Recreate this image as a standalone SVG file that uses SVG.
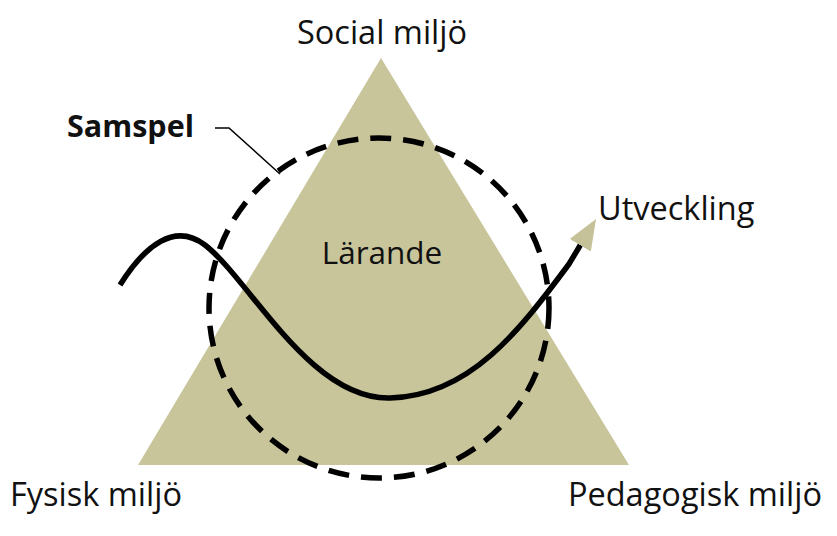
<svg xmlns="http://www.w3.org/2000/svg" width="837" height="536" viewBox="0 0 837 536">
<style>
text{font-family:"Open Sans","Noto Sans","Liberation Sans",sans-serif;fill:#111}
.lbl{font-size:32.5px}
.wave{fill:none;stroke:#000;stroke-width:5.5;stroke-linecap:butt}
</style>
<defs>
<marker id="ah" viewBox="0 0 10 8" refX="0.5" refY="4" markerWidth="5.6" markerHeight="4.5" orient="auto" markerUnits="strokeWidth">
<path d="M0,0 L10,4 L0,8 z" fill="#c5c29a"/>
</marker>
</defs>
<rect width="837" height="536" fill="#fff"/>
<g id="triangle">
<polygon points="381,58 138,465 629,465" fill="#c8c59b"/>
</g>
<g id="samspel-circle">
<circle cx="379" cy="308" r="170" fill="none" stroke="#000" stroke-width="5.5" stroke-dasharray="21 12"/>
</g>
<g id="connectors">
<path class="wave" d="M120,285 C145,245 175,222 205,245 C250,280 310,400 390,398 C470,396 520,330 569,264 L581,244" marker-end="url(#ah)"/>
<polyline points="215,128 229,128 280,174" fill="none" stroke="#000" stroke-width="1.5"/>
</g>
<g id="social"><text class="lbl" x="382" y="44" text-anchor="middle">Social miljö</text></g>
<g id="larande"><text x="382" y="264" font-size="31.5" text-anchor="middle">Lärande</text></g>
<g id="samspel"><text x="67" y="137" font-size="30.5" font-weight="bold">Samspel</text></g>
<g id="utveckling"><text class="lbl" x="598" y="220">Utveckling</text></g>
<g id="fysisk"><text class="lbl" x="10" y="506">Fysisk miljö</text></g>
<g id="pedagogisk"><text class="lbl" x="822" y="506" text-anchor="end">Pedagogisk miljö</text></g>
</svg>
